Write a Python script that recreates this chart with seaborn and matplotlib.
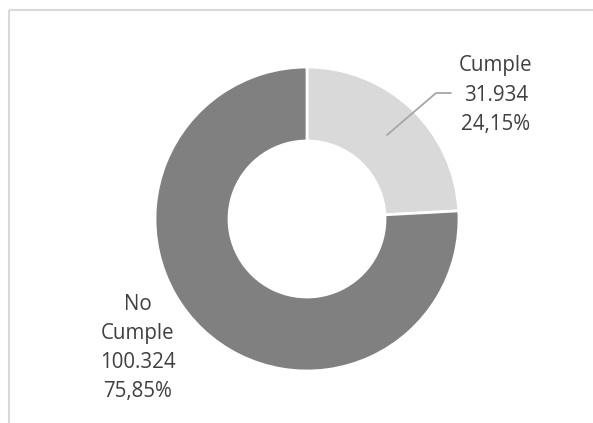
import numpy as np
import pandas as pd
import matplotlib
matplotlib.use('Agg')
import matplotlib.pyplot as plt
import seaborn as sns

# ---------------------------
# Datos
# ---------------------------
categorias = ['Cumple', 'No\nCumple']
valores = [31934, 100324]
porcentajes = ['24,15%', '75,85%']
valores_txt = ['31.934', '100.324']
colores = ['#D9D9D9', '#808080']

df = pd.DataFrame({'categoria': categorias, 'valor': valores})

sns.set_theme(style='white')
plt.rcParams['font.family'] = ['Open Sans', 'DejaVu Sans']

W, H = 593, 423
fig = plt.figure(figsize=(W / 100, H / 100), dpi=100)
ax = fig.add_axes([0, 0, 1, 1])

# Dona (centro y radio en pixeles)
cx, cy, r = 307, H - 219, 152
wedges, _ = ax.pie(df['valor'], colors=colores, startangle=90, counterclock=False,
                   center=(cx, cy), radius=r,
                   wedgeprops=dict(width=74, edgecolor='white', linewidth=2))
ax.set_xlim(0, W)
ax.set_ylim(0, H)
ax.set_aspect('equal')
ax.axis('off')

# Borde del area del grafico (recortado)
ax.plot([9, W + 5], [H - 10, H - 10], color='#D9D9D9', lw=1.5, solid_capstyle='butt')
ax.plot([9, 9], [H - 10, -5], color='#D9D9D9', lw=1.5, solid_capstyle='butt')

# Etiquetas
pos_etiquetas = [(496, H - 95), (138, H - 348)]
for i, (x, y) in enumerate(pos_etiquetas):
    ax.text(x, y, f"{categorias[i]}\n{valores_txt[i]}\n{porcentajes[i]}",
            ha='center', va='center', fontsize=14.8, color='#404040', linespacing=1.52)

# Linea guia de Cumple
ax.plot([387, 436, 451], [H - 135, H - 93, H - 93], color='#A6A6A6', lw=1.3)

fig.savefig('out.png', dpi=100)
